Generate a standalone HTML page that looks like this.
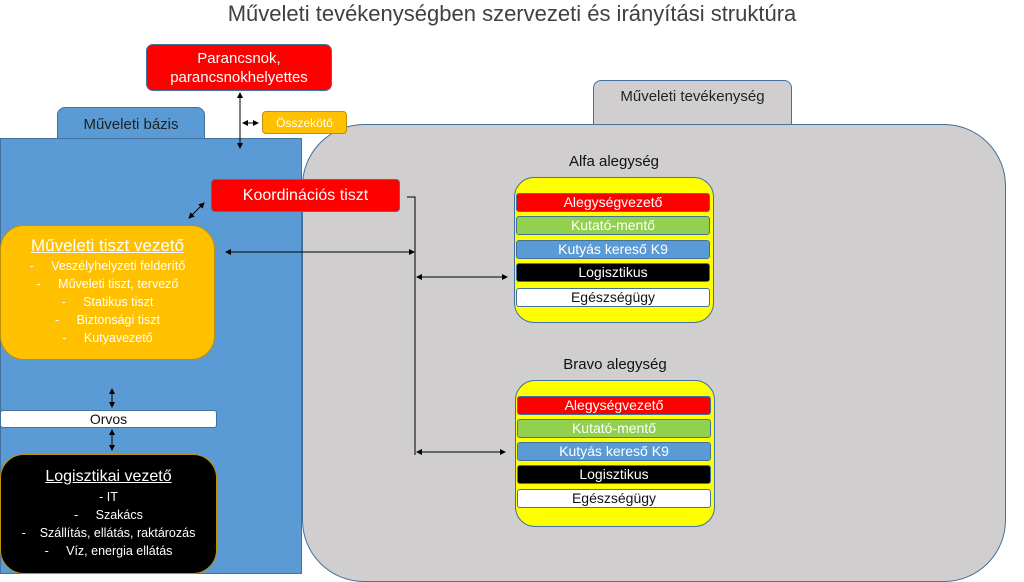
<!DOCTYPE html>
<html><head><meta charset="utf-8"><style>
body{margin:0;width:1024px;height:575px;overflow:hidden;background:#fff;position:relative;font-family:"Liberation Sans",sans-serif}
div{position:absolute;box-sizing:border-box}
.c{display:flex;align-items:center;justify-content:center;text-align:center}
.row{left:1px;width:194px;height:19px;border:1px solid #41719c;border-radius:3px;font-size:14px;line-height:17px;text-align:center}
</style></head><body>
<div style="left:0;top:1px;width:1024px;text-align:center;font-size:22px;color:#404040">Műveleti tevékenységben szervezeti és irányítási struktúra</div>

<div class="c" style="left:593px;top:80px;width:199px;height:50px;background:#d0cece;border:1px solid #41719c;border-radius:8px 8px 0 0;align-items:flex-start;padding-top:7px;font-size:15px;color:#222">Műveleti tevékenység</div>
<div style="left:302px;top:124px;width:704px;height:458px;background:#d0cece;border:1px solid #41719c;border-radius:62px"></div>

<div class="c" style="left:57px;top:107px;width:148px;height:35px;background:#5b9bd5;border:1px solid #41719c;border-radius:8px 8px 0 0;font-size:15px;color:#222">Műveleti bázis</div>
<div style="left:0;top:138px;width:302px;height:436px;background:#5b9bd5;border:1px solid #41719c"></div>

<div class="c" style="left:146px;top:44px;width:186px;height:47px;background:#f00;border:1px solid #41719c;border-radius:7px;color:#fff;font-size:15px;line-height:19px">Parancsnok,<br>parancsnokhelyettes</div>
<div class="c" style="left:262px;top:111px;width:85px;height:23px;background:#ffc000;border:1px solid #bf9000;border-radius:4px;color:#fff;font-size:12px">Összekötő</div>
<div class="c" style="left:211px;top:179px;width:189px;height:33px;background:#f00;border:1px solid #41719c;border-radius:4px;color:#fff;font-size:16px">Koordinációs tiszt</div>

<div style="left:0;top:225px;width:215px;height:135px;background:#ffc000;border:1px solid #bf9000;border-radius:24px;color:#fff;text-align:center;padding-top:10px">
<div style="position:static;font-size:17px;text-decoration:underline;margin-bottom:1px">Műveleti tiszt vezető</div>
<div style="position:static;font-size:12.5px;line-height:18px">-&nbsp;&nbsp;&nbsp;&nbsp;&nbsp;Veszélyhelyzeti felderítő<br>-&nbsp;&nbsp;&nbsp;&nbsp;&nbsp;Műveleti tiszt, tervező<br>-&nbsp;&nbsp;&nbsp;&nbsp;&nbsp;Statikus tiszt<br>-&nbsp;&nbsp;&nbsp;&nbsp;&nbsp;Biztonsági tiszt<br>-&nbsp;&nbsp;&nbsp;&nbsp;&nbsp;Kutyavezető</div></div>

<div class="c" style="left:0;top:410px;width:217px;height:18px;background:#fff;border:1px solid #41719c;border-radius:3px;font-size:14px;color:#111">Orvos</div>

<div style="left:0;top:454px;width:217px;height:120px;background:#000;border:1px solid #bf9000;border-radius:24px;color:#fff;text-align:center;padding-top:13px">
<div style="position:static;font-size:16px;text-decoration:underline;margin-bottom:2px">Logisztikai vezető</div>
<div style="position:static;font-size:12.5px;line-height:18px">- IT<br>-&nbsp;&nbsp;&nbsp;&nbsp;&nbsp;Szakács<br>-&nbsp;&nbsp;&nbsp;&nbsp;Szállítás, ellátás, raktározás<br>-&nbsp;&nbsp;&nbsp;&nbsp;&nbsp;Víz, energia ellátás</div></div>

<div style="left:514px;top:153px;width:200px;text-align:center;font-size:15px;color:#111">Alfa alegység</div>
<div style="left:514px;top:177px;width:200px;height:146px;background:#ff0;border:1px solid #41719c;border-radius:20px">
<div class="row" style="top:15px;background:#f00;color:#fff">Alegységvezető</div>
<div class="row" style="top:38px;background:#92d050;color:#fff">Kutató-mentő</div>
<div class="row" style="top:62px;background:#5b9bd5;color:#fff">Kutyás kereső K9</div>
<div class="row" style="top:85px;background:#000;color:#fff">Logisztikus</div>
<div class="row" style="top:110px;background:#fff;color:#111">Egészségügy</div>
</div>

<div style="left:515px;top:356px;width:200px;text-align:center;font-size:15px;color:#111">Bravo alegység</div>
<div style="left:515px;top:380px;width:200px;height:147px;background:#ff0;border:1px solid #41719c;border-radius:20px">
<div class="row" style="top:15px;background:#f00;color:#fff">Alegységvezető</div>
<div class="row" style="top:38px;background:#92d050;color:#fff">Kutató-mentő</div>
<div class="row" style="top:61px;background:#5b9bd5;color:#fff">Kutyás kereső K9</div>
<div class="row" style="top:84px;background:#000;color:#fff">Logisztikus</div>
<div class="row" style="top:108px;background:#fff;color:#111">Egészségügy</div>
</div>

<svg width="1024" height="575" style="position:absolute;left:0;top:0" fill="none" stroke="#000" stroke-width="1">
<defs><marker id="a" markerWidth="6" markerHeight="6" refX="5" refY="3" orient="auto-start-reverse"><path d="M0,0L6,3L0,6z" fill="#000" stroke="none"/></marker></defs>
<line x1="240" y1="93" x2="240" y2="148" marker-start="url(#a)" marker-end="url(#a)"/>
<line x1="243" y1="123" x2="258" y2="123" marker-start="url(#a)" marker-end="url(#a)"/>
<line x1="189" y1="218" x2="204" y2="203" marker-start="url(#a)" marker-end="url(#a)"/>
<line x1="226" y1="252" x2="414" y2="252" marker-start="url(#a)" marker-end="url(#a)"/>
<polyline points="407,197 415,197 415,455"/>
<line x1="417" y1="277" x2="507" y2="277" marker-start="url(#a)" marker-end="url(#a)"/>
<line x1="417" y1="452" x2="505" y2="452" marker-start="url(#a)" marker-end="url(#a)"/>
<line x1="112" y1="389" x2="112" y2="407" marker-start="url(#a)" marker-end="url(#a)"/>
<line x1="112" y1="430" x2="112" y2="450" marker-start="url(#a)" marker-end="url(#a)"/>
</svg>
</body></html>
